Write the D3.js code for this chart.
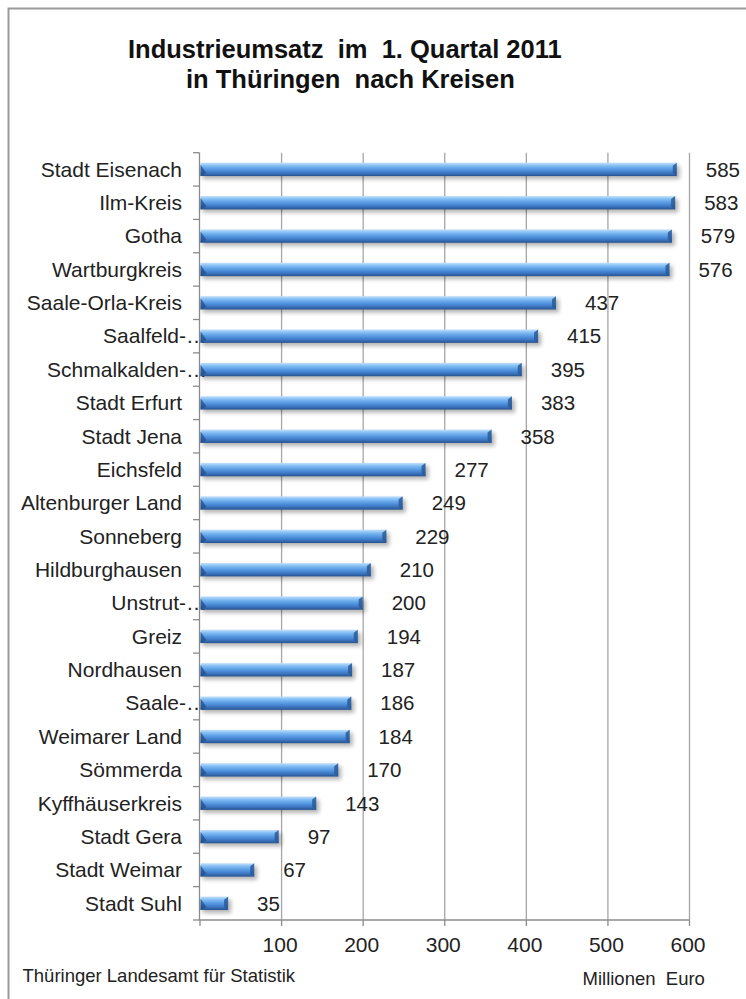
<!DOCTYPE html>
<html>
<head>
<meta charset="utf-8">
<script src="https://cdn.jsdelivr.net/npm/d3@7"></script>
<style>
  html, body { margin: 0; padding: 0; background: #fff; }
  svg { display: block; }
  text { font-family: "Liberation Sans", Arial, sans-serif; }
</style>
</head>
<body>
<svg id="chart" width="746" height="999"></svg>
<script>
const categories = [
  "Stadt Eisenach", "Ilm-Kreis", "Gotha", "Wartburgkreis", "Saale-Orla-Kreis",
  "Saalfeld-…", "Schmalkalden-…", "Stadt Erfurt", "Stadt Jena", "Eichsfeld",
  "Altenburger Land", "Sonneberg", "Hildburghausen", "Unstrut-…", "Greiz",
  "Nordhausen", "Saale-…", "Weimarer Land", "Sömmerda", "Kyffhäuserkreis",
  "Stadt Gera", "Stadt Weimar", "Stadt Suhl"
];
const values = [585, 583, 579, 576, 437, 415, 395, 383, 358, 277, 249, 229, 210, 200, 194, 187, 186, 184, 170, 143, 97, 67, 35];
const xTicks = [100, 200, 300, 400, 500, 600];
const titleLines = ["Industrieumsatz  im  1. Quartal 2011", "in Thüringen  nach Kreisen"];
const sourceText = "Thüringer Landesamt für Statistik";
const unitText = "Millionen  Euro";

const data = categories.map((c, i) => ({ cat: c, val: values[i], truncated: c.endsWith("…") }));

const svg = d3.select("#chart");

// frame
svg.append("rect").attr("x", 8.5).attr("y", 8.5).attr("width", 760).attr("height", 1010)
  .attr("fill", "none").attr("stroke", "#9a9a9a").attr("stroke-width", 2);

// title
svg.append("text").attr("x", 128).attr("y", 57.5).attr("font-size", 25.5).attr("font-weight", "bold")
  .attr("fill", "#111").style("white-space", "pre").text(titleLines[0]);
svg.append("text").attr("x", 186).attr("y", 87.5).attr("font-size", 25.5).attr("font-weight", "bold")
  .attr("fill", "#111").style("white-space", "pre").text(titleLines[1]);

const x = d3.scaleLinear().domain([0, 600]).range([199.5, 689]);
const y = d3.scaleBand().domain(categories).range([152.7, 920]).paddingInner(0.6).paddingOuter(0.3);
const step = y.step();

const defs = svg.append("defs");
const g1 = defs.append("linearGradient").attr("id", "barg").attr("x1", 0).attr("y1", 0).attr("x2", 0).attr("y2", 1);
[[0, "#c4e1fc"], [0.18, "#8ec4f5"], [0.36, "#6aabec"], [0.58, "#4f8fda"], [0.8, "#3a72bd"], [1, "#26528c"]]
  .forEach(([o, c]) => g1.append("stop").attr("offset", o).attr("stop-color", c));
const f = defs.append("filter").attr("id", "shadow").attr("x", "-20%").attr("y", "-50%").attr("width", "140%").attr("height", "200%");
f.append("feGaussianBlur").attr("stdDeviation", 2);

// gridlines
svg.append("g").selectAll("line").data(xTicks).join("line")
  .attr("x1", d => x(d) + 0.5).attr("x2", d => x(d) + 0.5)
  .attr("y1", y.range()[0]).attr("y2", 920)
  .attr("stroke", "#a6a6a6").attr("stroke-width", 1.3);

// category labels
svg.append("g").selectAll("text").data(data).join("text")
  .attr("x", d => d.truncated ? 207 : 182)
  .attr("y", d => y(d.cat) + y.bandwidth() / 2 + 7.3)
  .attr("text-anchor", "end").attr("font-size", 21).attr("fill", "#222")
  .text(d => d.cat);

// y axis
const ya = svg.append("g");
ya.append("line").attr("x1", 199.5).attr("x2", 199.5).attr("y1", y.range()[0]).attr("y2", 920)
  .attr("stroke", "#8c8c8c").attr("stroke-width", 1.3);
ya.selectAll("line.t").data(d3.range(categories.length + 1)).join("line").attr("class", "t")
  .attr("x1", 193).attr("x2", 199.5)
  .attr("y1", i => y.range()[0] + i * step).attr("y2", i => y.range()[0] + i * step)
  .attr("stroke", "#8c8c8c").attr("stroke-width", 1.3);

// x axis
const xa = svg.append("g");
xa.append("line").attr("x1", 199.5).attr("x2", 689.5).attr("y1", 920).attr("y2", 920)
  .attr("stroke", "#8c8c8c").attr("stroke-width", 1.3);
xa.selectAll("line.t").data([0].concat(xTicks)).join("line").attr("class", "t")
  .attr("x1", d => x(d) + 0.5).attr("x2", d => x(d) + 0.5).attr("y1", 920).attr("y2", 926)
  .attr("stroke", "#8c8c8c").attr("stroke-width", 1.3);
xa.selectAll("text").data(xTicks).join("text")
  .attr("x", d => x(d) - 1).attr("y", 952).attr("text-anchor", "middle")
  .attr("font-size", 21).attr("fill", "#222").text(d => d);

// bars
const bars = svg.append("g").selectAll("g").data(data).join("g");
bars.append("rect")
  .attr("x", x(0) + 3).attr("y", d => y(d.cat) + 3)
  .attr("width", d => x(d.val) - x(0)).attr("height", y.bandwidth())
  .attr("fill", "#000").attr("opacity", 0.3).attr("filter", "url(#shadow)");
bars.append("rect")
  .attr("x", x(0) + 1).attr("y", d => y(d.cat))
  .attr("width", d => x(d.val) - x(0) - 1).attr("height", y.bandwidth())
  .attr("fill", "url(#barg)");
// left bevel
bars.append("path")
  .attr("d", d => {
    const x0 = x(0) + 1, t = y(d.cat), b = t + y.bandwidth();
    return `M${x0},${t + 2}L${x0 + 6},${b - 3}L${x0},${b}Z`;
  })
  .attr("fill", "#1f4a82").attr("opacity", 0.7);
// right bevel
bars.append("path")
  .attr("d", d => {
    const x1 = x(d.val), t = y(d.cat), b = t + y.bandwidth();
    return `M${x1},${t}L${x1 - 4},${t + 3}L${x1 - 4},${b - 3}L${x1},${b}Z`;
  })
  .attr("fill", "#2a5a98").attr("opacity", 0.85);

// value labels
svg.append("g").selectAll("text").data(data).join("text")
  .attr("x", d => x(d.val) + 29)
  .attr("y", d => y(d.cat) + y.bandwidth() / 2 + 7.3)
  .attr("font-size", 20.5).attr("fill", "#222")
  .text(d => d.val);

// footer
svg.append("text").attr("x", 22.5).attr("y", 982).attr("font-size", 18.5).attr("fill", "#222")
  .text(sourceText);
svg.append("text").attr("x", 582.5).attr("y", 985).attr("font-size", 18.5).attr("fill", "#222")
  .style("white-space", "pre").text(unitText);
</script>
</body>
</html>
